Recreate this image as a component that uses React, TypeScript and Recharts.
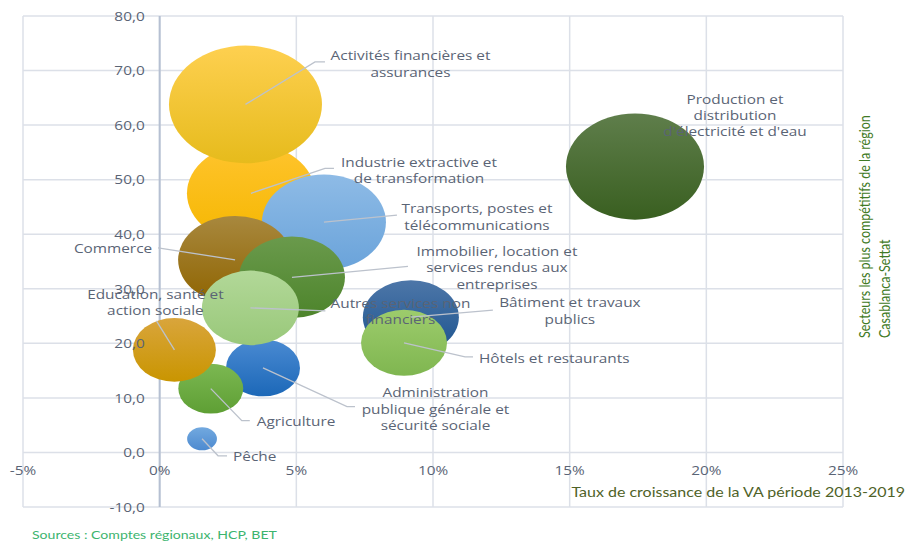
import React from "react";
import {
  ScatterChart,
  Scatter,
  XAxis,
  YAxis,
  ZAxis,
  CartesianGrid,
  ReferenceLine,
} from "recharts";

// Secteurs (ordre de tracé : les derniers passent au-dessus)
const sectors = [
  "Industrie extractive et de transformation",
  "Activités financières et assurances",
  "Transports, postes et télécommunications",
  "Commerce",
  "Immobilier, location et services rendus aux entreprises",
  "Administration publique générale et sécurité sociale",
  "Autres services non financiers",
  "Agriculture",
  "Education, santé et action sociale",
  "Pêche",
  "Bâtiment et travaux publics",
  "Hôtels et restaurants",
  "Production et distribution d'électricité et d'eau",
];

// Taux de croissance de la VA 2013-2019 (%)
const growth = [3.34, 3.14, 6.01, 2.76, 4.84, 3.78, 3.32, 1.87, 0.54, 1.55, 9.19, 8.94, 17.39];
// Indice de compétitivité
const competitiveness = [47.5, 63.8, 42.2, 35.3, 32.1, 15.5, 26.5, 11.7, 18.8, 2.5, 24.8, 20.1, 52.4];
// Poids relatif (taille des bulles)
const weight = [70, 100, 65.7, 55.5, 48, 23.4, 40.2, 18, 29.4, 3.8, 39.4, 31.6, 81.4];

const xTicks = [-5, 0, 5, 10, 15, 20, 25];
const yTicks = [-10, 0, 10, 20, 30, 40, 50, 60, 70, 80];

const data = sectors.map((name, i) => ({
  name,
  x: growth[i],
  y: competitiveness[i],
  z: weight[i],
}));

// layout
const W = 906;
const H = 542;
const AXIS_SIZE = 1;
const MARGIN = { top: 16, right: 63, bottom: 35 - AXIS_SIZE, left: 23 - AXIS_SIZE };
const PLOT_LEFT = 23;
const PLOT_TOP = 16;
const PLOT_W = W - PLOT_LEFT - 63;
const PLOT_H = H - PLOT_TOP - 35;
const X_ZERO = PLOT_LEFT + ((0 - xTicks[0]) / (xTicks[xTicks.length - 1] - xTicks[0])) * PLOT_W;
const Y_ZERO = PLOT_TOP + ((yTicks[yTicks.length - 1] - 0) / (yTicks[yTicks.length - 1] - yTicks[0])) * PLOT_H;
const STRETCH = 1.28; // the source picture is stretched horizontally
const MAX_R = 76.5;

const TEXT = "#5a6475";
const LABEL_FONT = "'Open Sans', sans-serif";
const TITLE_FONT = "Lato, sans-serif";

const bubbleColors: Record<string, [string, string]> = {
  "Industrie extractive et de transformation": ["#ffc42e", "#f5b700"],
  "Activités financières et assurances": ["#fed050", "#e6bb1c"],
  "Transports, postes et télécommunications": ["#8ebbe6", "#6aa3da"],
  Commerce: ["#a8883e", "#8f6400"],
  "Immobilier, location et services rendus aux entreprises": ["#6a9a4c", "#4d842b"],
  "Administration publique générale et sécurité sociale": ["#4a8ad2", "#1c68b8"],
  "Autres services non financiers": ["#b2d898", "#99c87a"],
  Agriculture: ["#7cb852", "#5e9f34"],
  "Education, santé et action sociale": ["#d9a53c", "#c99500"],
  "Pêche": ["#72a9df", "#4d8ad0"],
  "Bâtiment et travaux publics": ["#4d76a8", "#1c548f"],
  "Hôtels et restaurants": ["#9dcc6c", "#7fb650"],
  "Production et distribution d'électricité et d'eau": ["#5f7e4b", "#395f20"],
};

type LabelLayout = {
  lines: string[];
  tx: number;
  ty: number;
  anchor: "start" | "middle" | "end";
  lead: [number, number][];
};

const labelLayout: Record<string, LabelLayout> = {
  "Industrie extractive et de transformation": {
    lines: ["Industrie extractive et", "de transformation"],
    tx: 168, ty: -31.3, anchor: "middle", lead: [[74, -25], [83, -25]],
  },
  "Activités financières et assurances": {
    lines: ["Activités financières et", "assurances"],
    tx: 165, ty: -48.8, anchor: "middle", lead: [[69.5, -42.5], [79.5, -42.5]],
  },
  "Transports, postes et télécommunications": {
    lines: ["Transports, postes et", "télécommunications"],
    tx: 153, ty: -13.7, anchor: "middle", lead: [[73, -7]],
  },
  Commerce: {
    lines: ["Commerce"],
    tx: -83, ty: -12, anchor: "end", lead: [[-77, -12]],
  },
  "Immobilier, location et services rendus aux entreprises": {
    lines: ["Immobilier, location et", "services rendus aux", "entreprises"],
    tx: 205, ty: -26, anchor: "middle", lead: [[116, -11]],
  },
  "Administration publique générale et sécurité sociale": {
    lines: ["Administration", "publique générale et", "sécurité sociale"],
    tx: 172.5, ty: 24.7, anchor: "middle", lead: [[84, 38.7], [92, 38.7]],
  },
  "Autres services non financiers": {
    lines: ["Autres services non", "financiers"],
    tx: 150, ty: -5, anchor: "middle", lead: [[75, 3]],
  },
  Agriculture: {
    lines: ["Agriculture"],
    tx: 46, ty: 33, anchor: "start", lead: [[31, 32], [39, 32]],
  },
  "Education, santé et action sociale": {
    lines: ["Education, santé et", "action sociale"],
    tx: -19, ty: -55.7, anchor: "middle", lead: [[-18, -29]],
  },
  "Pêche": {
    lines: ["Pêche"],
    tx: 31, ty: 17.7, anchor: "start", lead: [[16, 17], [25, 17]],
  },
  "Bâtiment et travaux publics": {
    lines: ["Bâtiment et travaux", "publics"],
    tx: 159, ty: -14.7, anchor: "middle", lead: [[82, -7]],
  },
  "Hôtels et restaurants": {
    lines: ["Hôtels et restaurants"],
    tx: 75, ty: 15, anchor: "start", lead: [[61, 14], [69, 14]],
  },
  "Production et distribution d'électricité et d'eau": {
    lines: ["Production et", "distribution", "d'électricité et d'eau"],
    tx: 100, ty: -67.5, anchor: "middle", lead: [],
  },
};

const Bubble = (props: any) => {
  const { cx, cy, payload } = props;
  const r = props.size ? Math.sqrt(props.size / Math.PI) : props.width / 2;
  const [top, bottom] = bubbleColors[payload.name];
  const id = `bubble-grad-${sectors.indexOf(payload.name)}`;
  return (
    <g>
      <defs>
        <linearGradient id={id} x1="0" y1="0" x2="0" y2="1">
          <stop offset="0%" stopColor={top} />
          <stop offset="100%" stopColor={bottom} />
        </linearGradient>
      </defs>
      <ellipse cx={cx} cy={cy} rx={r} ry={r / 1.3} fill={`url(#${id})`} />
    </g>
  );
};

const BubbleLabel = (props: any) => {
  const { cx, cy, payload } = props;
  const l = labelLayout[payload.name];
  const pts = [[0, 0], ...l.lead].map(([dx, dy]) => `${cx + dx},${cy + dy}`).join(" ");
  return (
    <g>
      {l.lead.length > 0 && (
        <polyline points={pts} fill="none" stroke="#bcc2cc" strokeWidth={1.3} />
      )}
      {l.lines.map((t, k) => (
        <text
          key={k}
          transform={`translate(${cx + l.tx} ${cy + l.ty + k * 16.3}) scale(${STRETCH} 1)`}
          textAnchor={l.anchor}
          dominantBaseline="central"
          fill={TEXT}
          fontSize={12}
          fontFamily={LABEL_FONT}
        >
          {t}
        </text>
      ))}
    </g>
  );
};

const renderYTick = (props: any) => {
  const { y, payload } = props;
  return (
    <text
      key={`y-${payload.value}`}
      transform={`translate(${X_ZERO - 15} ${y}) scale(${STRETCH} 1)`}
      textAnchor="end"
      dominantBaseline="central"
      fill={TEXT}
      fontSize={12}
      fontFamily={LABEL_FONT}
    >
      {Number(payload.value).toFixed(1).replace(".", ",")}
    </text>
  );
};

const renderXTick = (props: any) => {
  const { x, payload } = props;
  return (
    <text
      key={`x-${payload.value}`}
      transform={`translate(${x} ${Y_ZERO + 18}) scale(${STRETCH} 1)`}
      textAnchor="middle"
      dominantBaseline="central"
      fill={TEXT}
      fontSize={12}
      fontFamily={LABEL_FONT}
    >
      {`${payload.value}%`}
    </text>
  );
};

export default function App() {
  return (
    <div style={{ position: "absolute", left: 0, top: 0, width: W, height: H, background: "#fff" }}>
      <ScatterChart width={W} height={H} margin={MARGIN}>
        <CartesianGrid stroke="#dce0e8" strokeWidth={1.5} />
        <XAxis
          type="number"
          dataKey="x"
          domain={[xTicks[0], xTicks[xTicks.length - 1]]}
          ticks={xTicks}
          interval={0}
          height={AXIS_SIZE}
          axisLine={false}
          tickLine={false}
          tick={renderXTick}
        />
        <YAxis
          type="number"
          dataKey="y"
          domain={[yTicks[0], yTicks[yTicks.length - 1]]}
          ticks={yTicks}
          interval={0}
          width={AXIS_SIZE}
          axisLine={false}
          tickLine={false}
          tick={renderYTick}
        />
        <ZAxis type="number" dataKey="z" domain={[0, 100]} range={[0, Math.PI * MAX_R * MAX_R]} />
        <ReferenceLine x={0} stroke="#b6c0d2" strokeWidth={2} />
        <Scatter data={data} shape={<Bubble />} isAnimationActive={false} />
        <Scatter data={data} shape={<BubbleLabel />} isAnimationActive={false} />
      </ScatterChart>
      <svg
        width={W}
        height={H}
        style={{ position: "absolute", left: 0, top: 0, pointerEvents: "none" }}
      >
        <text
          transform={`translate(905 492) scale(${STRETCH} 1)`}
          textAnchor="end"
          dominantBaseline="central"
          fill="#4f6228"
          fontSize={12.5}
          fontFamily={TITLE_FONT}
        >
          Taux de croissance de la VA période 2013-2019
        </text>
        <text
          transform={`translate(864 338) scale(${STRETCH} 1) rotate(-90)`}
          textAnchor="start"
          dominantBaseline="central"
          fill="#3f7a25"
          fontSize={12.5}
          fontFamily={TITLE_FONT}
        >
          Secteurs les plus compétitifs de la région
        </text>
        <text
          transform={`translate(884 338) scale(${STRETCH} 1) rotate(-90)`}
          textAnchor="start"
          dominantBaseline="central"
          fill="#3f7a25"
          fontSize={12.5}
          fontFamily={TITLE_FONT}
        >
          Casablanca-Settat
        </text>
        <text
          transform={`translate(32 535) scale(${STRETCH} 1)`}
          textAnchor="start"
          dominantBaseline="central"
          fill="#3cb46e"
          fontSize={11}
          fontFamily={TITLE_FONT}
        >
          Sources : Comptes régionaux, HCP, BET
        </text>
      </svg>
    </div>
  );
}
